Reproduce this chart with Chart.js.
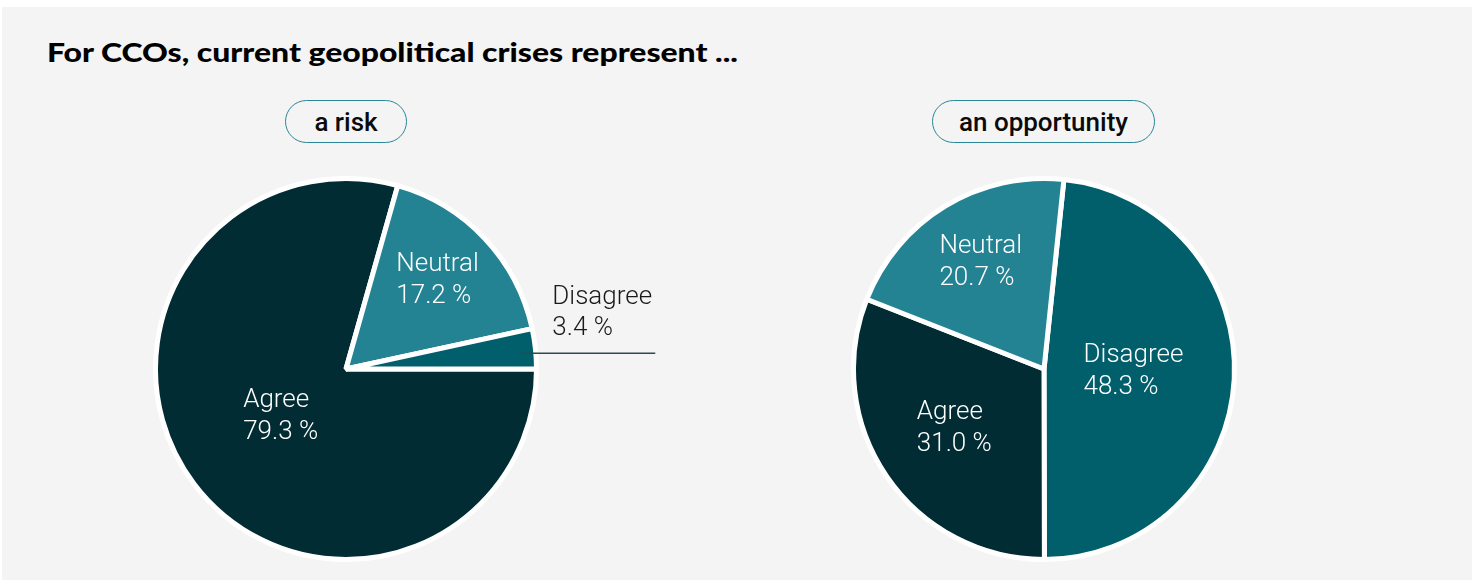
<!DOCTYPE html>
<html>
<head>
<meta charset="utf-8">
<script src="https://cdn.jsdelivr.net/npm/chart.js@4"></script>
<style>
  html, body { margin: 0; padding: 0; background: #ffffff; }
  body { width: 1472px; height: 580px; position: relative; overflow: hidden; }
  #panel { position: absolute; left: 2px; top: 7px; right: 0; bottom: 0; background: #f4f4f4; }
  #title { position: absolute; left: 47px; top: 35px; font-family: Lato, sans-serif; font-weight: 900;
           font-size: 27px; color: #000; white-space: nowrap; transform-origin: 0 0; }
  .pill { position: absolute; top: 100px; height: 41px; border: 1.5px solid #2b8797; border-radius: 22px;
          font-family: Roboto, sans-serif; font-weight: 500; font-size: 26px; color: #0b0b0b;
          display: flex; align-items: center; justify-content: center; }
  .pie { position: absolute; top: 176px; width: 546px; height: 386px; }
</style>
</head>
<body>
<div id="panel"></div>
<div id="title">For CCOs, current geopolitical crises represent ...</div>
<div class="pill" style="left:285px;width:120px;">a risk</div>
<div class="pill" style="left:932px;width:221px;">an opportunity</div>
<div class="pie" style="left:153px;"><canvas id="riskChart"></canvas></div>
<div class="pie" style="left:851px;"><canvas id="oppChart"></canvas></div>

<script>
// Dữ liệu
const riskLabels = ['Agree', 'Neutral', 'Disagree'];
const riskValues = [79.3, 17.2, 3.4];
const oppLabels = ['Disagree', 'Agree', 'Neutral'];
const oppValues = [48.3, 31.0, 20.7];

const sliceColors = { Agree: '#022c33', Neutral: '#238393', Disagree: '#005f6b' };

/**
 * Vẽ nhãn cho từng lát bánh.
 * place: tỉ lệ bán kính cho nhãn bên trong, hoặc 'outside' cho nhãn có đường dẫn.
 */
const sliceLabels = {
    id: 'sliceLabels',
    afterDatasetsDraw(chart, args, opts) {
        const ctx = chart.ctx;
        const meta = chart.getDatasetMeta(0);
        const labels = chart.data.labels;
        const values = chart.data.datasets[0].data;
        ctx.save();
        ctx.font = '300 26px Roboto';
        ctx.textBaseline = 'middle';
        ctx.textAlign = 'left';
        meta.data.forEach((arc, i) => {
            const p = arc.getProps(['x', 'y', 'startAngle', 'endAngle', 'outerRadius'], true);
            const mid = (p.startAngle + p.endAngle) / 2;
            const line1 = labels[i];
            const line2 = values[i].toFixed(1) + ' %';
            const place = opts.place[i];
            if (place === 'outside') {
                const sx = p.x + Math.cos(mid) * p.outerRadius * 0.92;
                const sy = p.y + Math.sin(mid) * p.outerRadius * 0.92 + 3;
                ctx.strokeStyle = '#2c4a50';
                ctx.lineWidth = 1.5;
                ctx.beginPath();
                ctx.moveTo(sx, sy);
                ctx.lineTo(sx + 135, sy);
                ctx.stroke();
                ctx.fillStyle = '#1a1a1a';
                ctx.fillText(line1, sx + 32, sy - 56);
                ctx.fillText(line2, sx + 32, sy - 25);
            } else {
                const cx = p.x + Math.cos(mid) * p.outerRadius * place;
                const cy = p.y + Math.sin(mid) * p.outerRadius * place - 2;
                const w = Math.max(ctx.measureText(line1).width, ctx.measureText(line2).width);
                ctx.fillStyle = '#ffffff';
                ctx.fillText(line1, cx - w / 2, cy - 16);
                ctx.fillText(line2, cx - w / 2, cy + 16);
            }
        });
        ctx.restore();
    }
};

function makePie(id, labels, values, rotation, place) {
    return new Chart(id, {
        type: 'pie',
        data: {
            labels: labels,
            datasets: [{
                data: values,
                backgroundColor: labels.map(l => sliceColors[l]),
                borderColor: '#ffffff',
                borderWidth: 5
            }]
        },
        options: {
            responsive: true,
            maintainAspectRatio: false,
            animation: false,
            rotation: rotation,
            layout: { padding: { left: 0, top: 0, bottom: 0, right: 160 } },
            plugins: {
                legend: { display: false },
                tooltip: { enabled: false },
                sliceLabels: { place: place }
            }
        },
        plugins: [sliceLabels]
    });
}

function init() {
    // Kéo giãn tiêu đề cho đúng bề rộng
    const title = document.getElementById('title');
    title.style.transform = 'scaleX(' + (691 / title.offsetWidth) + ')';

    makePie('riskChart', riskLabels, riskValues, 90, [0.43, 0.66, 'outside']);
    makePie('oppChart', oppLabels, oppValues, 6, [0.47, 0.57, 0.64]);
}

init();
</script>
</body>
</html>
